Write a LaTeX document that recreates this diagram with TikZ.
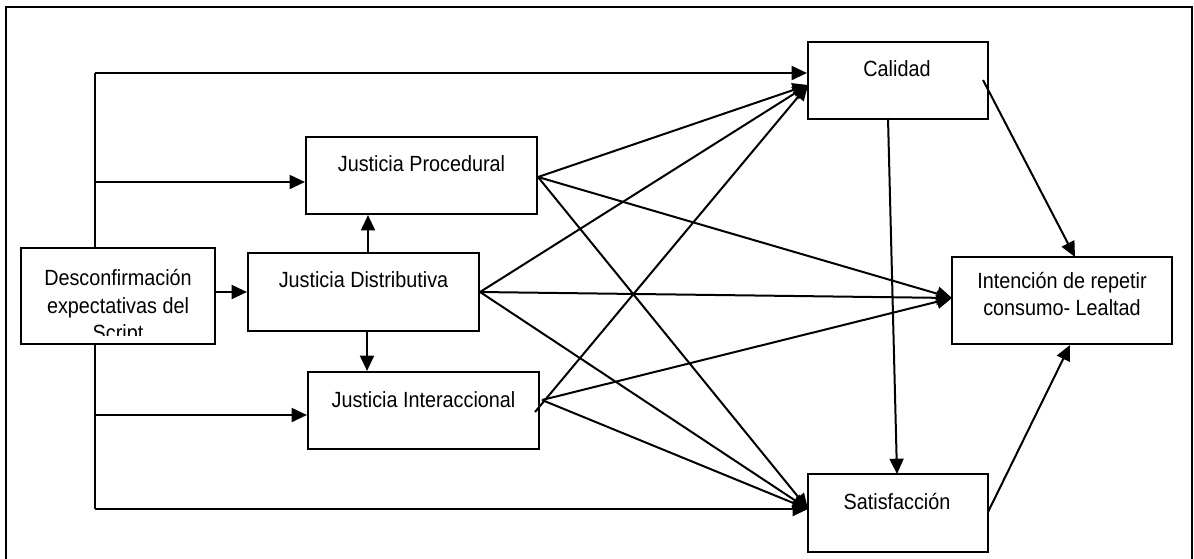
\documentclass[tikz,border=0pt]{standalone}
\usepackage{fontspec}
\setmainfont{Liberation Sans}[FakeStretch=0.9]
\usetikzlibrary{arrows.meta}
\begin{document}
\begin{tikzpicture}[x=0.75pt,y=-0.75pt,
  box/.style={draw,line width=1.6pt,rectangle,inner sep=0pt},
  txt/.style={inner sep=0pt,font=\fontsize{16.5}{20.6}\selectfont,align=center},
  arr/.style={line width=1.5pt,-{Triangle[length=11.5pt,width=10.5pt]}},
  ln/.style={line width=1.5pt}]
\useasboundingbox (0,0) rectangle (1194,558);
% outer frame
\draw[line width=1.2pt] (6,560) -- (6,7) -- (1192,7) -- (1192,560);
% boxes
\node[box,minimum width=194*0.75pt,minimum height=96*0.75pt] (desc) at (118,296) {};
\node[box,minimum width=231*0.75pt,minimum height=78*0.75pt] (dist) at (363.5,292) {};
\node[box,minimum width=231*0.75pt,minimum height=77*0.75pt] (proc) at (421.5,175.5) {};
\node[box,minimum width=231*0.75pt,minimum height=77*0.75pt] (inter) at (423.5,410.5) {};
\node[box,minimum width=180*0.75pt,minimum height=77*0.75pt] (cal) at (898,80.5) {};
\node[box,minimum width=180*0.75pt,minimum height=78*0.75pt] (sat) at (898,513) {};
\node[box,minimum width=220*0.75pt,minimum height=87*0.75pt] (int) at (1062,300.5) {};
% texts
\begin{scope}
\clip (21,248) rectangle (215,335);
\node[txt] (desct) at (118,307.5) {Desconfirmación\\expectativas del\\Script};
\end{scope}
\node[txt,anchor=base] (distt) at (363.5,287) {Justicia Distributiva};
\node[txt,anchor=base] (proct) at (421.5,171) {Justicia Procedural};
\node[txt,anchor=base] (intert) at (423.5,407) {Justicia Interaccional};
\node[txt,anchor=base] (calt) at (897,76) {Calidad};
\node[txt,anchor=base] (satt) at (897,509) {Satisfacción};
\node[txt] (intt) at (1062,294) {Intención de repetir\\consumo- Lealtad};
% helper coordinates
\coordinate (c1) at (95,73);
\coordinate (c2) at (95,182);
\coordinate (c3) at (95,509);
\coordinate (c4) at (95,415);
\coordinate (dp) at (368,0);
\coordinate (di) at (367,0);
\coordinate (pO) at (538,177);
\coordinate (iO) at (542,400);
\coordinate (iO2) at (535,412);
\coordinate (calIn) at (808,85);
\coordinate (intIn) at (952,298);
\coordinate (satIn) at (808,509);
\coordinate (calOut) at (983,80);
\coordinate (intTop) at (1075,257);
\coordinate (satOut) at (988,512);
\coordinate (intBot) at (1070,345);
\coordinate (calBot) at (888,118);
\coordinate (satTop) at (897,474);
% left connectors
\draw[ln] (desc.north -| c1) -- (c1);
\draw[arr] (c1) -- (cal.west |- c1);
\draw[arr] (c2) -- (proc.west |- c2);
\draw[ln] (desc.south -| c3) -- (c3);
\draw[arr] (c3) -- (satIn);
\draw[arr] (c4) -- (inter.west |- c4);
\draw[arr] (desc.east |- dist.west) -- (dist.west);
\draw[arr] (dist.north -| dp) -- (proc.south -| dp);
\draw[arr] (dist.south -| di) -- (inter.north -| di);
% from Procedural
\draw[arr] (pO) -- (calIn);
\draw[arr] (pO) -- (intIn);
\draw[arr] (pO) -- (satIn);
% from Distributiva
\draw[arr] (dist.east) -- (calIn);
\draw[arr] (dist.east) -- (intIn);
\draw[arr] (dist.east) -- (satIn);
% from Interaccional
\draw[arr] (iO2) -- (calIn);
\draw[arr] (iO) -- (intIn);
\draw[arr] (iO) -- (satIn);
% right side
\draw[arr] (calBot) -- (satTop);
\draw[arr] (calOut) -- (intTop);
\draw[arr] (satOut) -- (intBot);
\end{tikzpicture}
\end{document}
